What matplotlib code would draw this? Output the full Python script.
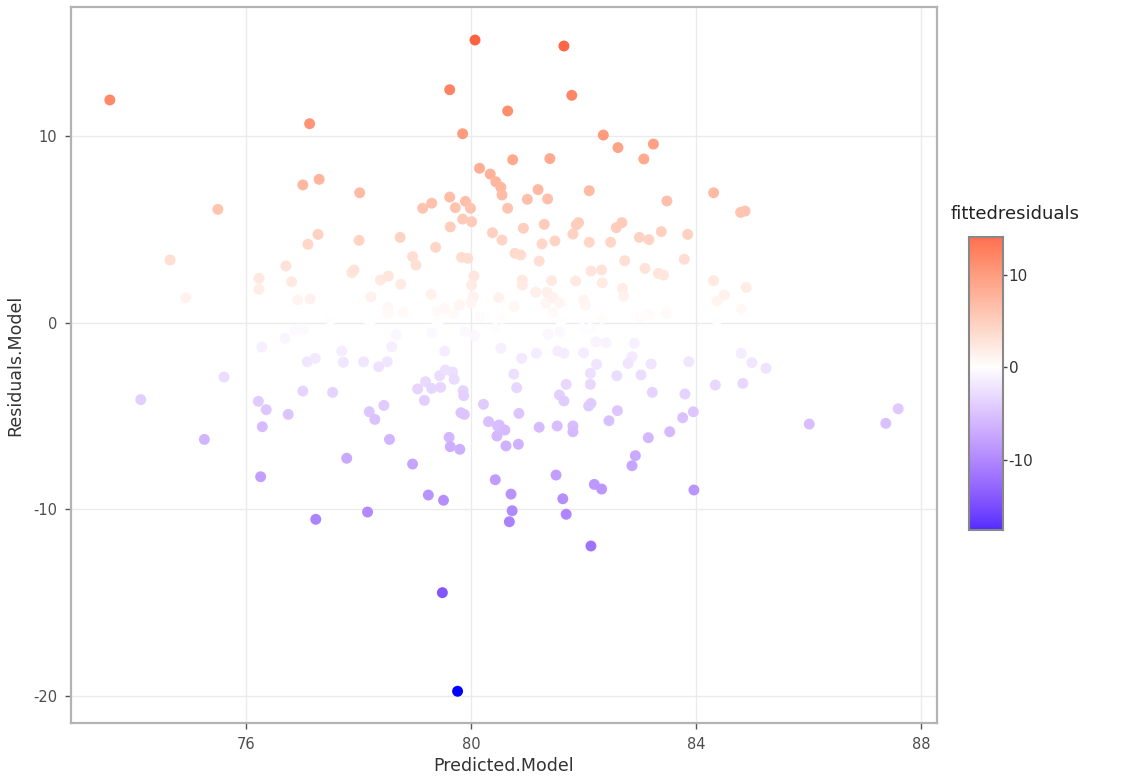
import numpy as np
import matplotlib
matplotlib.use("Agg")
import matplotlib.pyplot as plt
from matplotlib.colors import ListedColormap, Normalize

plt.rcParams["axes.unicode_minus"] = False

# ---------------- data ----------------
predicted = [
    73.58, 80.07, 81.65, 79.62, 81.79, 77.13, 80.65, 79.85, 82.35, 82.61,
    83.24, 83.07, 80.74, 81.40, 80.15, 80.34, 80.44, 80.53, 80.55, 80.65,
    81.00, 81.19, 81.36, 82.10, 83.48, 84.31, 84.79, 84.87, 77.01, 77.30,
    78.02, 75.50, 79.14, 79.30, 79.62, 79.72, 79.90, 79.99, 79.85, 80.01,
    79.63, 80.38, 77.28, 77.10, 78.01, 78.74, 79.37, 79.83, 79.94, 78.96,
    79.02, 76.71, 76.81, 77.88, 77.92, 78.39, 78.53, 78.75, 80.05, 80.01,
    79.29, 80.04, 80.00, 78.22, 76.92, 77.14, 78.52, 78.53, 78.80, 79.39,
    79.53, 79.69, 79.79, 80.49, 80.55, 80.16, 74.65, 76.23, 76.23, 74.93,
    80.93, 81.30, 81.26, 81.49, 81.81, 81.91, 81.87, 82.10, 82.48, 82.58,
    82.68, 82.99, 83.16, 83.38, 83.85, 80.78, 80.88, 81.21, 82.73, 83.79,
    82.13, 82.32, 83.09, 83.33, 83.42, 80.91, 80.91, 81.43, 81.86, 82.33,
    80.76, 81.15, 81.35, 81.33, 81.46, 81.57, 81.46, 82.00, 82.03, 82.69,
    82.71, 83.17, 83.47, 84.31, 84.50, 84.37, 84.89, 84.80, 84.37,
    80.55, 81.60, 82.33, 82.99, 78.20, 79.40, 77.50,
    74.13, 75.61, 75.26, 76.28, 76.69, 76.22, 76.36, 76.29, 76.26, 76.75,
    76.87, 77.02, 77.09, 77.23, 77.70, 77.73, 78.09, 78.36, 78.51, 78.59,
    78.67, 79.30, 79.53, 79.89, 80.06, 77.01, 77.54, 78.19, 78.29, 78.45,
    79.05, 79.19, 79.30, 79.46, 79.17, 79.44, 79.54, 79.67, 79.70, 79.86,
    79.87, 79.82, 79.88, 80.22, 80.31, 80.47, 80.46, 78.55, 79.61, 79.63,
    79.80, 77.79, 78.96, 80.43, 79.24, 79.51, 78.16, 77.24, 80.43, 80.53,
    80.90, 81.16, 81.37, 81.58, 81.54, 81.65, 82.00, 81.97, 82.12, 82.22,
    82.40, 82.23, 82.90, 82.86, 82.79, 83.20, 83.87, 80.76, 80.81, 81.69,
    82.12, 82.12, 82.59, 83.02, 83.22, 83.80, 81.57, 81.65, 82.09, 82.13,
    82.60, 82.45, 83.76, 83.95, 80.85, 80.50, 80.60, 80.62, 80.84, 81.21,
    81.53, 81.81, 81.81, 83.15, 83.53, 82.92, 82.86, 81.51, 82.19, 82.32,
    83.96, 80.71, 81.63, 80.73, 80.68, 81.69, 82.13, 84.80, 84.99, 85.24,
    84.34, 84.83, 86.01, 87.37, 87.59, 79.49, 79.76,
]
residuals = [
    11.93, 15.14, 14.82, 12.48, 12.18, 10.66, 11.34, 10.12, 10.05, 9.38,
    9.57, 8.77, 8.73, 8.79, 8.27, 7.96, 7.55, 7.25, 6.84, 6.13,
    6.61, 7.13, 6.63, 7.07, 6.52, 6.96, 5.91, 5.98, 7.38, 7.68,
    6.96, 6.07, 6.13, 6.40, 6.73, 6.16, 6.50, 6.13, 5.55, 5.41,
    5.13, 4.82, 4.73, 4.20, 4.41, 4.57, 4.04, 3.50, 3.45, 3.54,
    3.09, 3.04, 2.20, 2.68, 2.82, 2.29, 2.50, 2.06, 2.50, 2.02,
    1.52, 1.39, 1.07, 1.39, 1.22, 1.27, 0.80, 0.50, 0.56, 0.59,
    0.77, 0.50, 0.95, 1.34, 4.43, 0.32, 3.36, 2.38, 1.79, 1.34,
    5.06, 5.27, 4.22, 4.38, 4.75, 5.36, 5.24, 4.31, 4.31, 5.09,
    5.36, 4.57, 4.45, 4.88, 4.73, 3.72, 3.63, 3.30, 3.32, 3.40,
    2.77, 2.82, 2.91, 2.64, 2.55, 2.29, 2.02, 2.25, 2.23, 2.14,
    0.86, 1.64, 1.63, 1.04, 1.34, 1.07, 0.54, 1.22, 0.95, 1.84,
    1.43, 0.45, 0.50, 2.25, 1.48, 1.16, 1.89, 0.73, 0.14,
    0.23, 0.05, 0.23, 0.32, -0.05, -0.05, 0.15,
    -4.12, -2.91, -6.25, -1.30, -0.84, -4.21, -4.66, -5.57, -8.25, -4.91,
    -0.39, -0.35, -2.09, -1.91, -1.52, -2.12, -2.09, -2.36, -2.09, -1.29,
    -0.66, -0.54, -1.52, -0.48, -0.71, -3.66, -3.73, -4.77, -5.18, -4.43,
    -3.55, -3.16, -3.52, -3.46, -4.16, -2.84, -2.53, -2.64, -3.03, -3.64,
    -3.91, -4.82, -4.91, -4.37, -5.30, -5.53, -6.07, -6.25, -6.14, -6.64,
    -6.78, -7.26, -7.57, -8.41, -9.23, -9.51, -10.14, -10.53, -0.30, -1.37,
    -1.91, -1.64, -0.62, -0.48, -1.52, -1.64, -1.61, -0.30, -0.30, -1.02,
    -1.07, -2.23, -1.10, -1.82, -2.18, -2.21, -2.09, -2.75, -3.48, -3.30,
    -2.71, -3.30, -2.84, -2.80, -3.73, -3.82, -3.87, -4.19, -4.46, -4.32,
    -4.71, -5.25, -5.09, -4.77, -4.86, -5.48, -5.75, -6.60, -6.51, -5.60,
    -5.53, -5.53, -5.84, -6.16, -5.84, -7.12, -7.66, -8.16, -8.66, -8.91,
    -8.96, -9.18, -9.43, -10.07, -10.66, -10.26, -11.96, -1.64, -2.14, -2.44,
    -3.34, -3.25, -5.43, -5.39, -4.61, -14.46, -19.74,
]
fitted_residuals = residuals

x_ticks = [76, 80, 84, 88]
y_ticks = [-20, -10, 0, 10]
cbar_ticks = [-10, 0, 10]
x_label = "Predicted.Model"
y_label = "Residuals.Model"
legend_title = "fittedresiduals"

# ------------- Lab-interpolated diverging palette (blue / white / red) -------------
def _srgb_to_lin(c):
    c = np.asarray(c, float)
    return np.where(c <= 0.04045, c / 12.92, ((c + 0.055) / 1.055) ** 2.4)

def _lin_to_srgb(c):
    c = np.clip(c, 0, 1)
    return np.where(c <= 0.0031308, 12.92 * c, 1.055 * c ** (1 / 2.4) - 0.055)

_M = np.array([[0.4124, 0.3576, 0.1805], [0.2126, 0.7152, 0.0722], [0.0193, 0.1192, 0.9505]])
_WP = np.array([0.95047, 1.0, 1.08883])

def rgb2lab(rgb):
    xyz = _M @ _srgb_to_lin(rgb) / _WP
    f = np.where(xyz > (6 / 29) ** 3, np.cbrt(xyz), xyz / (3 * (6 / 29) ** 2) + 4 / 29)
    return np.array([116 * f[1] - 16, 500 * (f[0] - f[1]), 200 * (f[1] - f[2])])

def lab2rgb(lab):
    L, a, b = lab
    fy = (L + 16) / 116
    fx = fy + a / 500
    fz = fy - b / 200
    f = np.array([fx, fy, fz])
    xyz = np.where(f > 6 / 29, f ** 3, 3 * (6 / 29) ** 2 * (f - 4 / 29)) * _WP
    return _lin_to_srgb(np.linalg.solve(_M, xyz))

lo, mid, hi = rgb2lab([0, 0, 1]), rgb2lab([1, 1, 1]), rgb2lab([1, 0, 0])
cols = []
for t in np.linspace(0, 1, 256):
    if t < 0.5:
        f = t / 0.5
        lab = lo + (mid - lo) * f
    else:
        f = (t - 0.5) / 0.5
        lab = mid + (hi - mid) * f
    cols.append(np.clip(lab2rgb(lab), 0, 1))
cmap = ListedColormap(cols)

m = max(abs(min(fitted_residuals)), abs(max(fitted_residuals)))
norm = Normalize(vmin=-m, vmax=m)

# ---------------- figure ----------------
W, H = 1125, 784
fig = plt.figure(figsize=(W / 100, H / 100), dpi=100)

def px_axes(x0, y0, x1, y1):
    return fig.add_axes([x0 / W, 1 - y1 / H, (x1 - x0) / W, (y1 - y0) / H])

ax = px_axes(71, 7, 937, 723)
ax.scatter(predicted, residuals, c=fitted_residuals, cmap=cmap, norm=norm,
           s=62, linewidths=0, zorder=3)

ax.set_xlim(72.89, 88.28)
ax.set_ylim(-21.44, 16.91)
ax.set_xticks(x_ticks)
ax.set_yticks(y_ticks)
ax.grid(True, color="#ebebeb", linewidth=1.0, zorder=0)
ax.set_axisbelow(True)
for sp in ax.spines.values():
    sp.set_color("#b3b3b3")
    sp.set_linewidth(1.6)
ax.tick_params(axis="both", length=4, width=1, color="#555555",
               labelcolor="#4d4d4d", labelsize=10.5)
ax.tick_params(axis="x", pad=6)
ax.tick_params(axis="y", pad=6)
ax.set_xlabel(x_label, fontsize=12.5, color="#333333", labelpad=4)
ax.set_ylabel(y_label, fontsize=12.5, color="#333333", labelpad=6)

# ---------------- colorbar ----------------
cb_lo, cb_hi = -17.6, 14.1
cax = px_axes(969, 237, 1003, 530)
grad = np.linspace(cb_lo, cb_hi, 300).reshape(-1, 1)
cax.imshow(grad, cmap=cmap, norm=norm, aspect="auto", origin="lower",
           extent=[0, 1, cb_lo, cb_hi])
cax.set_xlim(0, 1)
cax.set_ylim(cb_lo, cb_hi)
cax.set_xticks([])
cax.yaxis.tick_right()
cax.set_yticks(cbar_ticks)
cax.set_yticklabels([str(t) for t in cbar_ticks])
cax.tick_params(axis="y", length=3, width=1, color="#444444",
                labelcolor="#333333", labelsize=11, pad=1)
for sp in cax.spines.values():
    sp.set_color("#888888")
    sp.set_linewidth(1.5)
fig.text(951 / W, 1 - 214 / H, legend_title, fontsize=13, color="#222222",
         ha="left", va="center")

fig.savefig("out.png", dpi=100)
